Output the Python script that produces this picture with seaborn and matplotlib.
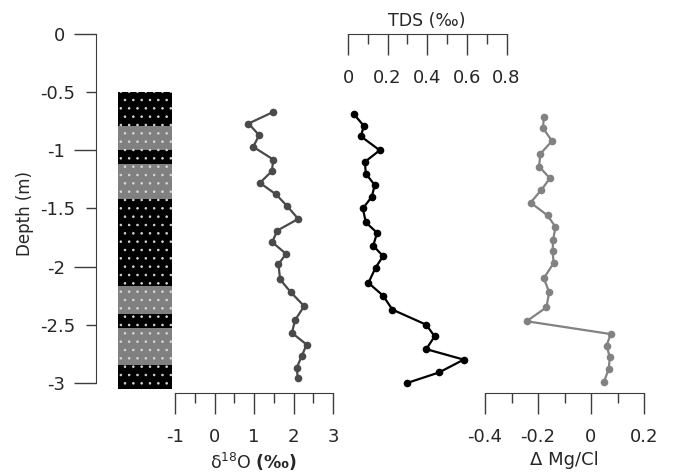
import numpy as np
import pandas as pd
import matplotlib
matplotlib.use("Agg")
import matplotlib.pyplot as plt
import seaborn as sns
from matplotlib.ticker import FixedLocator, FormatStrFormatter

# Lithology column (depth boundaries in m, band colours)
lith_depths = [0.5, 0.79, 1.0, 1.12, 1.42, 2.17, 2.41, 2.53, 2.85, 3.05]
lith_colors = ["black", "gray", "black", "gray", "black", "gray", "black", "gray", "black"]

# delta 18O profile
d18o_depth = [-0.67, -0.77, -0.87, -0.97, -1.08, -1.18, -1.28, -1.38, -1.48, -1.59, -1.69, -1.79,
              -1.89, -1.98, -2.11, -2.22, -2.34, -2.46, -2.57, -2.67, -2.77, -2.87, -2.96]
d18o_val = [1.49, 0.86, 1.13, 0.98, 1.49, 1.45, 1.15, 1.56, 1.84, 2.12, 1.59, 1.46,
            1.81, 1.62, 1.66, 1.93, 2.27, 2.04, 1.96, 2.33, 2.21, 2.08, 2.11]

# TDS profile
tds_depth = [-0.69, -0.79, -0.88, -1.0, -1.1, -1.2, -1.3, -1.4, -1.5, -1.62, -1.71, -1.82,
             -1.91, -2.01, -2.14, -2.25, -2.37, -2.5, -2.6, -2.71, -2.8, -2.91, -3.0]
tds_val = [0.03, 0.08, 0.065, 0.16, 0.085, 0.09, 0.135, 0.12, 0.075, 0.09, 0.147, 0.127,
           0.177, 0.139, 0.103, 0.177, 0.224, 0.395, 0.437, 0.395, 0.584, 0.46, 0.3]

# Delta Mg/Cl profile
mgcl_depth = [-0.71, -0.81, -0.92, -1.03, -1.14, -1.24, -1.34, -1.45, -1.56, -1.66, -1.77,
              -1.87, -1.97, -2.1, -2.22, -2.35, -2.47, -2.58, -2.68, -2.78, -2.88, -2.99]
mgcl_val = [-0.178, -0.181, -0.147, -0.191, -0.196, -0.155, -0.187, -0.228, -0.164, -0.134, -0.143,
            -0.145, -0.141, -0.178, -0.158, -0.168, -0.243, 0.074, 0.059, 0.071, 0.067, 0.049]

sns.set_style("white")
plt.rcParams["font.family"] = ["DejaVu Sans"]
plt.rcParams["axes.unicode_minus"] = False
plt.rcParams["hatch.color"] = "#d8d8d8"
plt.rcParams["hatch.linewidth"] = 0.6

W, H = 675, 475
spine_col = "#3c3c3c"
ylims = (-3.087, 0)


def rect(x0, x1, y0, y1):
    return [x0 / W, 1 - y1 / H, (x1 - x0) / W, (y1 - y0) / H]


fig = plt.figure(figsize=(W / 100, H / 100), dpi=100)

ax0 = fig.add_axes(rect(118, 172, 34, 393))
ax1 = fig.add_axes(rect(175, 333, 34, 393), sharey=ax0)
ax2 = fig.add_axes(rect(348, 506.5, 34, 393), sharey=ax0)
ax3 = fig.add_axes(rect(485, 644, 34, 393), sharey=ax0)
for ax in (ax0, ax1, ax2, ax3):
    ax.patch.set_visible(False)

# lithology column
tops = np.array(lith_depths[:-1])
bots = np.array(lith_depths[1:])
ax0.barh(y=-(tops + bots) / 2, width=1, height=bots - tops, left=0,
         color=lith_colors, edgecolor="#d8d8d8", linewidth=0, hatch="..")
ax0.set_xlim(0, 1)
ax0.set_ylim(*ylims)
for s in ["top", "right", "bottom"]:
    ax0.spines[s].set_visible(False)
ax0.spines["left"].set_position(("outward", 15.5))
ax0.spines["left"].set_bounds(-3, 0)
ax0.spines["left"].set_color(spine_col)
ax0.set_xticks([])
ax0.yaxis.set_major_locator(FixedLocator([0, -1, -2, -3]))
ax0.yaxis.set_minor_locator(FixedLocator([-0.5, -1.5, -2.5]))
ax0.yaxis.set_major_formatter(FormatStrFormatter("%g"))
ax0.yaxis.set_minor_formatter(FormatStrFormatter("%g"))
ax0.tick_params(axis="y", which="major", length=16, width=1, color=spine_col,
                labelsize=13, pad=6.5, left=True)
ax0.tick_params(axis="y", which="minor", length=7.5, width=1, color=spine_col,
                labelsize=13, pad=8, left=True)
ax0.set_ylabel("Depth (m)", fontsize=12, labelpad=4)


def profile_axis(ax, xs, ys, color, xlim, major, minor, fmt):
    sns.lineplot(x=xs, y=ys, sort=False, estimator=None, ax=ax, color=color,
                 linewidth=1.6, marker="o", markersize=5.5, markeredgewidth=0)
    ax.set_xlim(*xlim)
    for s in ["top", "right", "left"]:
        ax.spines[s].set_visible(False)
    ax.spines["bottom"].set_color(spine_col)
    ax.spines["bottom"].set_bounds(*xlim)
    ax.tick_params(axis="y", which="both", left=False, labelleft=False)
    ax.xaxis.set_major_locator(FixedLocator(major))
    ax.xaxis.set_minor_locator(FixedLocator(minor))
    ax.xaxis.set_major_formatter(FormatStrFormatter(fmt))
    ax.tick_params(axis="x", which="major", length=15, width=1, color=spine_col,
                   labelsize=13, pad=10, bottom=True)
    ax.tick_params(axis="x", which="minor", length=7.5, width=1, color=spine_col, bottom=True)
    ax.set_ylabel("")


profile_axis(ax1, d18o_val, d18o_depth, "#4a4a4a", (-1, 3),
             [-1, 0, 1, 2, 3], [-0.5, 0.5, 1.5, 2.5], "%g")
ax1.set_xlabel(r"δ$^{18}$O $\mathbf{(‰)}$", fontsize=12.5, labelpad=4)

profile_axis(ax2, tds_val, tds_depth, "black", (0, 0.8),
             [0, 0.2, 0.4, 0.6, 0.8], [0.1, 0.3, 0.5, 0.7], "%g")
ax2.spines["bottom"].set_position(("axes", 1.0))
ax2.set_xlabel("")
ax2.set_title("TDS (‰)", fontsize=12.5, pad=6, y=1.0)

profile_axis(ax3, mgcl_val, mgcl_depth, "#828282", (-0.4, 0.2),
             [-0.4, -0.2, 0, 0.2], [-0.3, -0.1, 0.1], "%g")
ax3.set_xlabel("Δ Mg/Cl", fontsize=13, labelpad=4)

ax0.set_ylim(*ylims)

fig.savefig("out.png", dpi=100)
